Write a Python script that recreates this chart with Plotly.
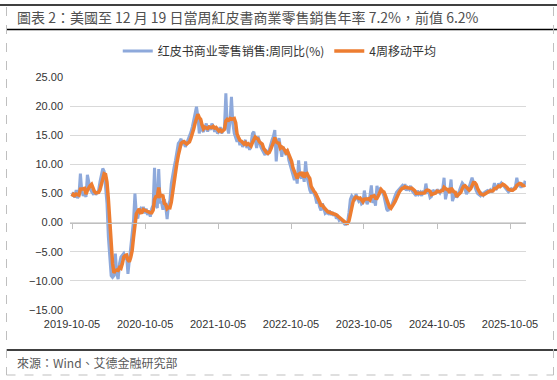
import pandas as pd
import plotly.graph_objects as go

# Redbook weekly YoY (%), one value per week (Saturdays)
yoy_2019 = [4.5, 5.2, 4.3, 5.6, 4.2, 4.8, 8.4, 5.5, 4.6, 5.0, 4.4, 8.2, 7.0]
yoy_2020 = [5.8, 5.3, 5.0, 5.3, 4.8, 5.2, 5.5, 7.0, 8.5, 9.3, 8.8, 6.5, 3.3, -2.5,
            -7.0, -9.1, -9.4, -9.1, -5.3, -8.8, -9.7, -7.0, -5.9, -5.5, -5.3, -5.9,
            -5.6, -8.8, -6.5, -3.0, -1.0, 0.4, 5.0, 1.6, 0.7, 2.1, 2.4, 1.8, 2.7, 1.6,
            2.4, 1.3, 2.1, 1.0, 2.4, 3.0, 9.4, 3.0, 2.5, 9.2, 3.5, 3.5]
yoy_2021 = [2.2, 4.0, 2.8, 0.6, 3.0, 3.8, 6.7, 8.4, 9.5, 10.7, 12.4, 13.6, 13.9,
            14.4, 13.3, 14.1, 13.0, 13.6, 14.1, 14.7, 15.5, 16.4, 17.6, 18.7, 19.9,
            18.2, 15.3, 17.6, 15.9, 15.6, 16.4, 17.0, 15.6, 16.7, 15.9, 17.0, 16.4,
            15.6, 16.4, 15.3, 15.6, 16.4, 15.3, 15.9, 16.4, 22.2, 16.4, 15.3, 17.6,
            21.6, 17.0, 15.3]
yoy_2022 = [14.7, 13.9, 14.7, 13.3, 14.1, 13.0, 13.6, 14.2, 12.8, 13.6, 12.5, 13.6,
            15.3, 15.6, 14.2, 12.8, 14.8, 13.6, 13.0, 12.5, 11.9, 11.6, 12.2, 11.9,
            12.5, 13.6, 14.2, 14.8, 15.9, 10.5, 13.6, 14.5, 12.5, 11.3, 13.0, 12.2,
            11.6, 12.5, 10.7, 9.9, 9.0, 7.9, 7.3, 8.4, 6.7, 10.7, 7.9, 7.6, 8.4, 7.0,
            10.5, 7.9, 6.4]
yoy_2023 = [5.6, 5.0, 5.9, 5.0, 4.4, 3.3, 3.9, 2.7, 2.1, 3.3, 2.4, 1.6, 1.8, 1.6,
            2.1, 1.3, 1.8, 1.2, 1.6, 0.7, 1.0, 0.4, 0.6, 0.3, 0.0, -0.3, -0.3, 0.1,
            1.7, 4.0, 4.6, 4.3, 3.7, 4.9, 4.3, 3.7, 4.0, 3.2, 3.4, 5.5, 4.0, 3.2, 3.7,
            4.6, 6.4, 3.4, 4.0, 2.9, 6.3, 5.2, 5.7, 5.5]
yoy_2024 = [5.2, 4.6, 3.4, 2.3, 2.0, 2.9, 2.6, 3.4, 4.0, 4.6, 5.2, 5.5, 5.7, 6.0,
            6.3, 5.7, 6.6, 5.5, 6.0, 5.7, 6.3, 5.5, 5.2, 4.9, 4.6, 5.5, 4.9, 5.2, 4.6,
            5.5, 5.0, 6.7, 5.2, 5.3, 4.3, 4.5, 5.6, 5.3, 5.0, 5.7, 5.4, 5.1, 5.6, 5.8,
            7.7, 4.0, 5.2, 5.8, 5.4, 7.4, 3.7, 4.6]
yoy_2025 = [5.2, 4.3, 4.8, 5.5, 6.2, 6.8, 6.5, 5.8, 4.9, 5.4, 6.1, 6.8, 7.7, 6.9,
            6.0, 5.5, 5.0, 4.8, 4.6, 5.0, 4.7, 5.2, 5.4, 5.5, 5.3, 5.6, 5.2, 5.8, 6.8,
            5.6, 6.0, 6.7, 6.4, 6.8, 6.5, 6.2, 5.8, 5.6, 5.3, 5.5, 5.8, 5.6, 6.0, 6.2,
            7.7, 6.4, 6.6, 6.0, 6.5, 6.2, 7.2]

weekly_yoy = yoy_2019 + yoy_2020 + yoy_2021 + yoy_2022 + yoy_2023 + yoy_2024 + yoy_2025
dates = pd.date_range("2019-10-05", periods=len(weekly_yoy), freq="7D")
ma4 = pd.Series(weekly_yoy).rolling(4, min_periods=1).mean().round(2).tolist()

x_tick_vals = ["2019-10-05", "2020-10-05", "2021-10-05", "2022-10-05",
               "2023-10-05", "2024-10-05", "2025-10-05"]
y_tick_vals = [-15, -10, -5, 0, 5, 10, 15, 20, 25]

title_text = "圖表 2：美國至 12 月 19 日當周紅皮書商業零售銷售年率 7.2%，前值 6.2%"
source_text = "來源：Wind、艾德金融研究部"
name_weekly = "红皮书商业零售销售:周同比(%)"
name_ma = "4周移动平均"

W, H = 557, 380
L, R, T, B = 70, 31, 77, 70
pw, ph = W - L - R, H - T - B


def px(x):
    return (x - L) / pw


def py(y):
    return (H - B - y) / ph


fig = go.Figure()
fig.add_trace(go.Scatter(x=dates, y=weekly_yoy, mode="lines", name=name_weekly,
                         line=dict(color="#8EA9DB", width=3)))
fig.add_trace(go.Scatter(x=dates, y=ma4, mode="lines", name=name_ma, xaxis="x2",
                         line=dict(color="#ED7D31", width=3.5)))

xr = ["2019-09-25", "2025-12-24"]
tick_font = dict(family="Liberation Sans, Arial, sans-serif", size=11, color="#333333")
fig.update_layout(
    width=W, height=H,
    margin=dict(l=L, r=R, t=T, b=B, pad=0, autoexpand=False),
    paper_bgcolor="white", plot_bgcolor="white",
    showlegend=True,
    legend=dict(orientation="h", x=0.46, xanchor="center", y=py(51), yanchor="middle",
                font=dict(family="Noto Sans CJK SC", size=12, color="#333333"),
                bgcolor="rgba(0,0,0,0)", itemwidth=30),
    xaxis=dict(type="date", range=xr, tickvals=x_tick_vals, tickformat="%Y-%m-%d",
               showgrid=False, zeroline=False, showline=False, ticks="",
               tickfont=tick_font, ticklabelstandoff=6),
    xaxis2=dict(type="date", range=xr, overlaying="x", anchor="free", position=0.375,
                tickvals=x_tick_vals, showticklabels=False, showgrid=False,
                zeroline=False, showline=True, linecolor="#bfbfbf", linewidth=1,
                ticks="outside", ticklen=5, tickcolor="#bfbfbf", tickwidth=1),
    yaxis=dict(range=[-15, 25], tickvals=y_tick_vals, tickformat=".2f",
               showgrid=True, gridcolor="#d9d9d9", gridwidth=1, zeroline=False,
               showline=False, ticks="", tickfont=tick_font, ticklabelstandoff=6),
)

# Title and source text
fig.add_annotation(text=title_text, xref="paper", yref="paper", x=px(15), y=py(17),
                   xanchor="left", yanchor="middle", showarrow=False,
                   font=dict(family="Noto Sans CJK TC", size=14, color="#505050"))
fig.add_annotation(text=source_text, xref="paper", yref="paper", x=px(15), y=py(362),
                   xanchor="left", yanchor="middle", showarrow=False,
                   font=dict(family="Noto Sans CJK TC", size=12, color="#595959"))

# Frame: solid rules and dashed border
shape_lines = [
    dict(x0=px(0), x1=px(W), y0=py(5), y1=py(5), line=dict(color="black", width=1.5)),
    dict(x0=px(6), x1=px(W), y0=py(29.5), y1=py(29.5), line=dict(color="black", width=1.5)),
    dict(x0=px(6), x1=px(W), y0=py(350), y1=py(350), line=dict(color="black", width=1.5)),
    dict(x0=px(6.5), x1=px(6.5), y0=py(7), y1=py(375), line=dict(color="#bfbfbf", width=1, dash="dash")),
    dict(x0=px(553.5), x1=px(553.5), y0=py(7), y1=py(375), line=dict(color="#bfbfbf", width=1, dash="dash")),
    dict(x0=px(6.5), x1=px(553.5), y0=py(375), y1=py(375), line=dict(color="#bfbfbf", width=1, dash="dash")),
]
for s in shape_lines:
    fig.add_shape(type="line", xref="paper", yref="paper", layer="above", **s)

fig.write_html("out.html", config={"displayModeBar": False},
               post_script="document.body.style.margin='0';document.body.style.overflow='hidden';")
